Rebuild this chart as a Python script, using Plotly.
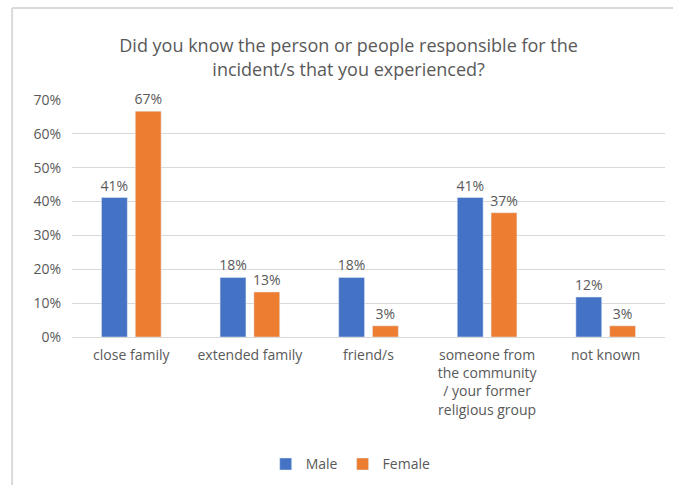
import plotly.graph_objects as go

categories = ["close family", "extended family", "friend/s",
              "someone from<br>the community<br>/ your former<br>religious group",
              "not known"]
male = [41.2, 17.6, 17.6, 41.2, 11.8]
female = [66.7, 13.3, 3.3, 36.7, 3.3]
tick_vals = [0, 10, 20, 30, 40, 50, 60, 70]
tick_text = [f"{v}%" for v in tick_vals]

FONT = "Open Sans"
GRAY = "#595959"
FS = 14

fig = go.Figure()
fig.add_trace(go.Bar(
    name="Male", x=categories, y=male, marker_color="#4472C4",
    text=[f"{round(v)}%" for v in male], textposition="outside", constraintext="none",
    textfont=dict(family=FONT, size=14, color=GRAY), cliponaxis=False))
fig.add_trace(go.Bar(
    name="Female", x=categories, y=female, marker_color="#ED7D31",
    text=[f"{round(v)}%" for v in female], textposition="outside", constraintext="none",
    textfont=dict(family=FONT, size=14, color=GRAY), cliponaxis=False))

fig.update_layout(
    width=673, height=485,
    margin=dict(l=72, r=8, t=100, b=148, autoexpand=False),
    paper_bgcolor="white", plot_bgcolor="white",
    font=dict(family=FONT, color=GRAY, size=FS),
    title=dict(text="Did you know the person or people responsible for the<br>incident/s that you experienced?",
               x=0.518, xanchor="center", y=0.892, yanchor="middle",
               font=dict(family=FONT, size=18, color=GRAY)),
    barmode="group", bargap=0.43, bargroupgap=0.235,
    showlegend=True,
    legend=dict(orientation="h", x=0.47, xanchor="center", y=-0.47, yanchor="top",
                font=dict(family=FONT, size=FS, color=GRAY), itemwidth=30,
                traceorder="normal"),
    xaxis=dict(showline=False, ticks="", tickfont=dict(family=FONT, size=FS, color=GRAY),
               tickangle=0, automargin=False, ticklabelstandoff=8),
    yaxis=dict(range=[0, 70], tickvals=tick_vals, ticktext=tick_text,
               showgrid=True, gridcolor="#D9D9D9", gridwidth=1,
               zeroline=True, zerolinecolor="#D9D9D9", zerolinewidth=1,
               tickfont=dict(family=FONT, size=FS, color=GRAY), ticklabelstandoff=10,
               automargin=False),
    shapes=[
        dict(type="line", xref="paper", yref="paper", x0=-0.101, x1=1.02, y0=1.388, y1=1.388,
             line=dict(color="#D9D9D9", width=2)),
        dict(type="line", xref="paper", yref="paper", x0=-0.101, x1=-0.101, y0=1.388, y1=-0.7,
             line=dict(color="#D9D9D9", width=2)),
    ],
)

fig.write_html("out.html")
